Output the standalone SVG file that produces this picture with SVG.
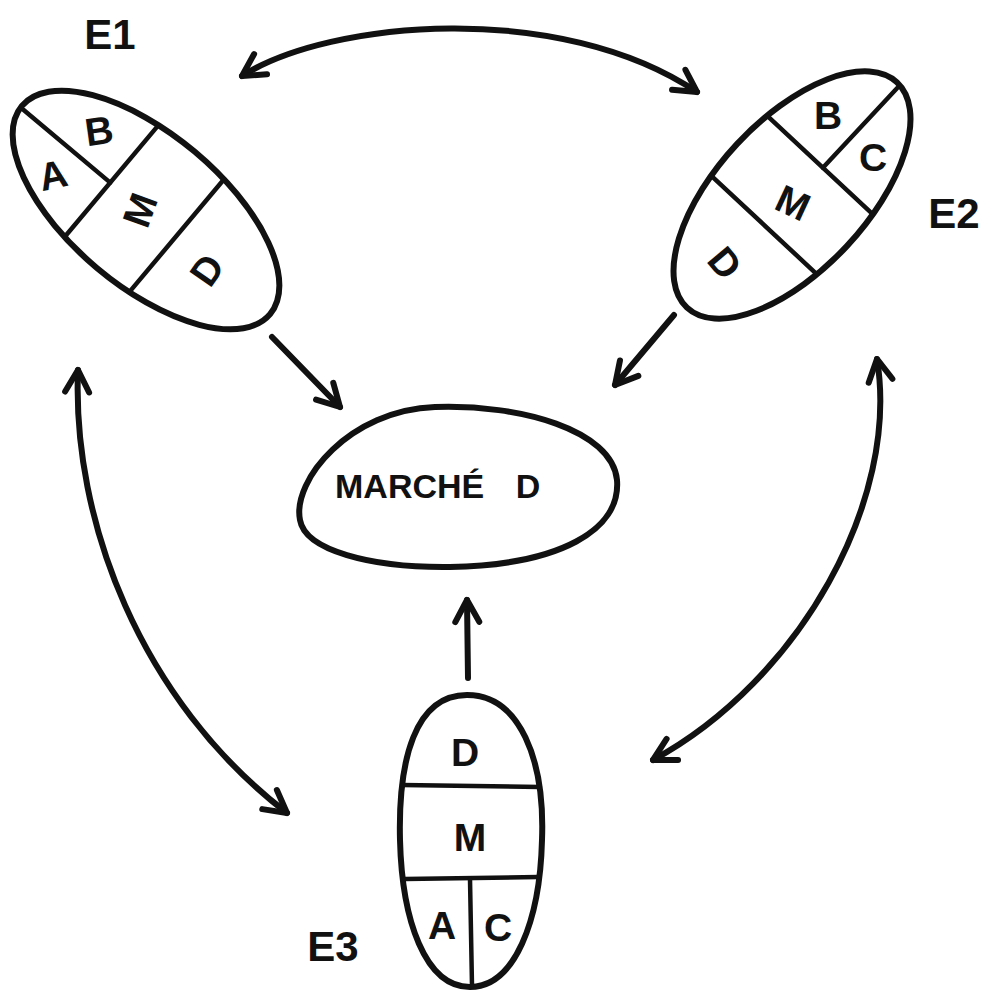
<svg xmlns="http://www.w3.org/2000/svg" width="1000" height="990" viewBox="0 0 1000 990">
<style>
.outline{fill:none;stroke:#111;stroke-width:6;stroke-linejoin:round;stroke-linecap:round}
.sep{fill:none;stroke:#111;stroke-width:4.5;stroke-linecap:round}
.arrow{fill:none;stroke:#111;stroke-width:6;stroke-linecap:round}
.lt{font-family:"Liberation Sans",Arial,sans-serif;font-weight:bold;font-size:39px;fill:#111;text-anchor:middle;dominant-baseline:central}
.lbl{font-family:"Liberation Sans",Arial,sans-serif;font-weight:bold;font-size:42px;fill:#111;text-anchor:middle;dominant-baseline:central}
.mk{font-family:"Liberation Sans",Arial,sans-serif;font-weight:bold;font-size:34px;fill:#111}
</style>
<defs>
<marker id="ah" markerUnits="userSpaceOnUse" markerWidth="34" markerHeight="34" viewBox="0 0 34 34" refX="30" refY="17" orient="auto-start-reverse">
<path d="M8,5 L30,17 L8,29" fill="none" stroke="#111" stroke-width="6" stroke-linecap="round" stroke-linejoin="round"/>
</marker>
</defs>
<rect width="1000" height="990" fill="#fff"/>

<g id="connectors">
<path class="arrow" d="M242,76 C330,20 560,0 697,92" marker-start="url(#ah)" marker-end="url(#ah)"/>
<path class="arrow" d="M78,370 C72,520 140,700 287,813" marker-start="url(#ah)" marker-end="url(#ah)"/>
<path class="arrow" d="M877,359 C900,500 800,680 653,760" marker-start="url(#ah)" marker-end="url(#ah)"/>
<path class="arrow" d="M272,337 L340,407" marker-end="url(#ah)"/>
<path class="arrow" d="M674,315 L615,385" marker-end="url(#ah)"/>
<path class="arrow" d="M468,678 L467,600" marker-end="url(#ah)"/>
</g>

<g id="E1">
<g transform="translate(146,210) rotate(40)">
<ellipse class="outline" cx="0" cy="0" rx="162" ry="76"/>
<line class="sep" x1="-45" y1="-73" x2="-45" y2="73"/>
<line class="sep" x1="40" y1="-74" x2="40" y2="74"/>
<line class="sep" x1="-158" y1="2" x2="-45" y2="2"/>
</g>
<text class="lt" x="53" y="175" transform="rotate(-12 53 175)">A</text>
<text class="lt" x="99" y="131" transform="rotate(-8 99 131)">B</text>
<text class="lt" x="140" y="210" transform="rotate(-70 140 210)">M</text>
<text class="lt" x="207" y="270" transform="rotate(-55 207 270)">D</text>
<text class="lbl" x="110" y="34">E1</text>
</g>

<g id="E2">
<g transform="translate(792,195) rotate(-47)">
<ellipse class="outline" cx="0" cy="0" rx="154" ry="75"/>
<line class="sep" x1="41" y1="-72" x2="41" y2="72"/>
<line class="sep" x1="-41" y1="-72" x2="-41" y2="72"/>
<line class="sep" x1="41" y1="4" x2="150" y2="4"/>
</g>
<text class="lt" x="828" y="115">B</text>
<text class="lt" x="873" y="157">C</text>
<text class="lt" x="793" y="203" transform="rotate(25 793 203)">M</text>
<text class="lt" x="725" y="263" transform="rotate(50 725 263)">D</text>
<text class="lbl" x="954" y="213">E2</text>
</g>

<g id="marche">
<path class="outline" d="M300,520 C292,480 350,410 435,407 C520,404 612,430 617,480 C621,530 560,565 450,567 C370,568 305,550 300,520 Z"/>
<text class="mk" x="335" y="498" word-spacing="22">MARCHÉ D</text>
</g>

<g id="E3">
<path class="outline" d="M467,695 C520,695 545,760 542,840 C540,920 515,987 470,987 C425,987 402,920 400,840 C398,760 415,695 467,695 Z"/>
<line class="sep" x1="402" y1="785" x2="540" y2="787"/>
<line class="sep" x1="405" y1="879" x2="538" y2="877"/>
<line class="sep" x1="470" y1="879" x2="472" y2="986"/>
<text class="lt" x="465" y="752">D</text>
<text class="lt" x="470" y="837">M</text>
<text class="lt" x="442" y="925">A</text>
<text class="lt" x="498" y="927">C</text>
<text class="lbl" x="333" y="946">E3</text>
</g>
</svg>
